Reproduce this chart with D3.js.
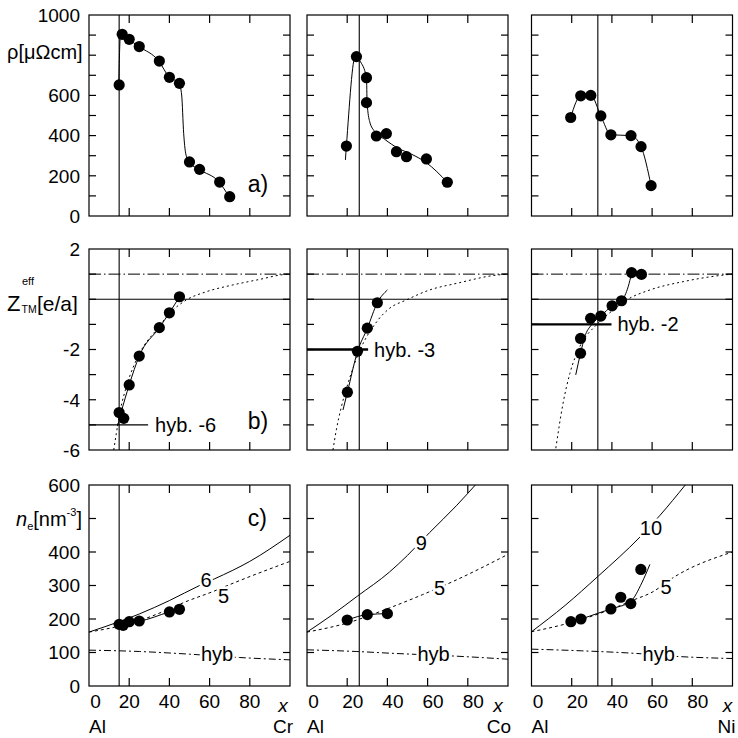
<!DOCTYPE html>
<html><head><meta charset="utf-8">
<script src="https://cdn.jsdelivr.net/npm/d3@7"></script>
<style>
body{margin:0;background:#fff}
svg{display:block}
text{font-family:"Liberation Sans",Arial,Helvetica,sans-serif;fill:#000}
</style>
</head><body>
<svg id="c" width="738" height="738"></svg>
<script>
// ---------------- DATA ----------------
const categories = ["Cr", "Co", "Ni"];
const tmVertical = [15, 26, 33];

// row a) resistivity
const rhoX_Cr = [15, 16.5, 20, 25, 35, 40, 45, 50, 55, 65, 70];
const rhoY_Cr = [652, 904, 879, 843, 771, 690, 660, 269, 232, 169, 96];
const rhoFitX_Cr = [14.8, 15.6, 16.6, 19.8, 24.9, 34.7, 39.8, 44.8, 46.1, 47.1, 48.1, 49.8, 54.7, 64.7, 69.7];
const rhoFitY_Cr = [652, 892, 904, 879, 843, 771, 692, 660, 602, 411, 312, 269, 232, 169, 96];
const rhoX_Co = [19.6, 24.6, 29.6, 29.6, 34.5, 39.5, 44.5, 49.5, 59.4, 69.8];
const rhoY_Co = [348, 793, 688, 564, 398, 410, 320, 295, 284, 168];
const rhoFitX_Co = [19.1, 19.6, 24.1, 26.2, 29.6, 29.9, 31.2, 33.7, 38.7, 45.3, 51.9, 59.4, 69.8];
const rhoFitY_Co = [279, 348, 796, 773, 688, 564, 469, 420, 381, 337, 308, 265, 168];
const rhoX_Ni = [19.5, 24.5, 29.5, 34.5, 39.5, 49.5, 54.5, 59.5];
const rhoY_Ni = [490, 598, 600, 498, 404, 400, 345, 151];

// row b) effective valence
const zX_Cr = [15, 17.3, 20, 25, 35, 40, 45];
const zY_Cr = [-4.51, -4.74, -3.41, -2.26, -1.13, -0.54, 0.1];
const zFitX_Cr = [14.2, 16, 20, 25, 35, 40, 45];
const zFitY_Cr = [-5.05, -4.5, -3.41, -2.26, -1.13, -0.54, 0.1];
const zDotX_Cr = [12.3, 13.6, 15.6, 18.6, 25.2, 33.5, 41.8, 48.4, 58.4, 71.6, 84.9, 96.6, 100];
const zDotY_Cr = [-6, -5.34, -4.41, -3.48, -2.15, -1.22, -0.43, -0.03, 0.3, 0.57, 0.79, 0.98, 1.0];
const zX_Co = [20.1, 25.1, 30, 35];
const zY_Co = [-3.7, -2.07, -1.15, -0.14];
const zFitX_Co = [17.9, 20.1, 25.1, 30, 35, 40];
const zFitY_Co = [-4.41, -3.7, -2.09, -1.16, -0.14, 0.37];
const zDotX_Co = [12.9, 14.6, 17.1, 20.4, 23.7, 35.3, 41.1, 49.4, 61, 74.3, 94.2, 100];
const zDotY_Co = [-6, -5.2, -4.28, -3.35, -2.55, -0.83, -0.36, -0.03, 0.37, 0.63, 0.96, 1.0];
const zX_Ni = [24.4, 24.4, 29.4, 34.5, 40.1, 44.8, 49.8, 54.7];
const zY_Ni = [-2.15, -1.56, -0.76, -0.67, -0.26, -0.06, 1.06, 0.99];
const zFitX_Ni = [22, 24.4, 26.5, 29.8, 34.5, 40.1, 44.8, 48.1, 49.8];
const zFitY_Ni = [-3.01, -2.15, -1.49, -1.02, -0.67, -0.26, -0.06, 0.5, 1.03];
const zDotX_Ni = [12.1, 15.7, 19.1, 24, 32.3, 40.6, 47.3, 58.9, 75.4, 98.7, 100];
const zDotY_Ni = [-5.93, -4.14, -2.95, -1.89, -1.02, -0.43, -0.03, 0.37, 0.7, 0.99, 1.0];
const hybLevel = [-5, -2, -1];
const hybEnd = [29.4, 30.4, 39.8];
const hybText = ["hyb. -6", "hyb. -3", "hyb. -2"];

// row c) electron density
const nX_Cr = [15, 17, 20, 25, 40, 45];
const nY_Cr = [184, 181, 192, 194, 221, 229];
const nX_Co = [20, 30, 40];
const nY_Co = [197, 213, 216];
const nX_Ni = [19.6, 24.6, 39.5, 44.4, 49.4, 54.4];
const nY_Ni = [192, 200, 230, 265, 246, 348];
const nFitX_Ni = [19.6, 24.6, 33, 39.5, 49.4, 54.9, 58.9];
const nFitY_Ni = [192, 200, 217, 230, 253, 308, 363];

const hiX_Cr = [0, 15, 25, 40, 55, 62.5, 80, 100];
const hiY_Cr = [161, 192, 215, 255, 300, 320, 372, 450];
const hiX_Co = [0, 12, 25, 41, 50, 61, 74.3, 84.2];
const hiY_Co = [161, 210, 268, 340, 390, 458, 538, 603];
const hiX_Ni = [0, 16.6, 33.2, 54, 64, 76.5];
const hiY_Ni = [162, 240, 328, 445, 510, 600];
const hiLabel = ["6", "9", "10"];
const hiLabelX = [58.2, 56.9, 59.4];
const hiLabelY = [318, 426, 472];

const fiveX_Cr = [0, 25, 40, 47.5, 61.7, 73, 100];
const fiveY_Cr = [161, 195, 230, 250, 282, 310, 372];
const fiveX_Co = [0, 20, 41, 57.6, 73, 100];
const fiveY_Co = [161, 188, 233, 273, 313, 393];
const fiveX_Ni = [0, 20, 40, 50, 60, 71.7, 100];
const fiveY_Ni = [162, 190, 230, 255, 280, 328, 400];
const fiveLabelX = [67, 66, 67];
const fiveLabelY = [270, 294, 295];

const hybX_Cr = [0, 25, 50, 75, 100];
const hybY_Cr = [107, 103, 95, 85, 78];
const hybX_Co = [0, 24.5, 41, 77.6, 100];
const hybY_Co = [108, 103, 98, 88, 80];
const hybX_Ni = [0, 25, 50, 73, 100];
const hybY_Ni = [110, 105, 98, 88, 82];
const hybLabelX = [63.7, 63, 63.3];
const hybLabelY = [96, 96, 96];

// axes
const xTicks = [20, 40, 60, 80];
const xTickLabels = [0, 20, 40, 60, 80];
const rhoTicks = d3.range(0, 1001, 100);
const rhoLabels = [1000, 600, 400, 200, 0];
const zTicks = d3.range(-6, 2.01, 1);
const zLabels = [2, -2, -4, -6];
const nTicks = d3.range(0, 601, 100);
const nLabels = [600, 400, 300, 200, 100, 0];
const panelLetters = ["a)", "b)", "c)"];

// ---------------- LAYOUT ----------------
const W = 201, H = 201;
const colX = [89, 307, 531.5];
const rowY = [15, 249, 485];
const svg = d3.select("#c");
const x = d3.scaleLinear().domain([0, 100]).range([0, W]);
const yRows = [
  d3.scaleLinear().domain([0, 1000]).range([H, 0]),
  d3.scaleLinear().domain([-6, 2]).range([H, 0]),
  d3.scaleLinear().domain([0, 600]).range([H, 0])
];
const yTicksRows = [rhoTicks, zTicks, nTicks];
const yLabelsRows = [rhoLabels, zLabels, nLabels];

const pts = (xs, ys) => d3.zip(xs, ys);
function lineGen(y, curve) {
  return d3.line().x(d => x(d[0])).y(d => y(d[1])).curve(curve || d3.curveMonotoneX);
}

const rowData = [
  { pts: [pts(rhoX_Cr, rhoY_Cr), pts(rhoX_Co, rhoY_Co), pts(rhoX_Ni, rhoY_Ni)],
    fit: [pts(rhoFitX_Cr, rhoFitY_Cr), pts(rhoFitX_Co, rhoFitY_Co), pts(rhoX_Ni, rhoY_Ni)] },
  { pts: [pts(zX_Cr, zY_Cr), pts(zX_Co, zY_Co), pts(zX_Ni, zY_Ni)],
    fit: [pts(zFitX_Cr, zFitY_Cr), pts(zFitX_Co, zFitY_Co), pts(zFitX_Ni, zFitY_Ni)] },
  { pts: [pts(nX_Cr, nY_Cr), pts(nX_Co, nY_Co), pts(nX_Ni, nY_Ni)],
    fit: [pts(nX_Cr, nY_Cr), pts(nX_Co, nY_Co), pts(nFitX_Ni, nFitY_Ni)] }
];
const zDots = [pts(zDotX_Cr, zDotY_Cr), pts(zDotX_Co, zDotY_Co), pts(zDotX_Ni, zDotY_Ni)];
const hiCurves = [pts(hiX_Cr, hiY_Cr), pts(hiX_Co, hiY_Co), pts(hiX_Ni, hiY_Ni)];
const fiveCurves = [pts(fiveX_Cr, fiveY_Cr), pts(fiveX_Co, fiveY_Co), pts(fiveX_Ni, fiveY_Ni)];
const hybCurves = [pts(hybX_Cr, hybY_Cr), pts(hybX_Co, hybY_Co), pts(hybX_Ni, hybY_Ni)];

const defs = svg.append("defs");
defs.append("clipPath").attr("id", "clip").append("rect").attr("width", W).attr("height", H);

const FONT = 19;

for (let r = 0; r < 3; r++) {
  for (let c = 0; c < 3; c++) {
    const y = yRows[r];
    const g = svg.append("g").attr("transform", `translate(${colX[c]},${rowY[r]})`);
    const inner = g.append("g").attr("clip-path", "url(#clip)");

    // vertical reference line
    inner.append("line").attr("x1", x(tmVertical[c])).attr("x2", x(tmVertical[c]))
      .attr("y1", 0).attr("y2", H).attr("stroke", "#000").attr("stroke-width", 1.1);

    if (r === 1) {
      inner.append("line").attr("x1", 0).attr("x2", W).attr("y1", y(0)).attr("y2", y(0))
        .attr("stroke", "#000").attr("stroke-width", 1.1);
      inner.append("line").attr("x1", 0).attr("x2", W).attr("y1", y(1)).attr("y2", y(1))
        .attr("stroke", "#000").attr("stroke-width", 1).attr("stroke-dasharray", "12,3,1.5,3");
      inner.append("path").attr("d", lineGen(y)(zDots[c])).attr("fill", "none")
        .attr("stroke", "#000").attr("stroke-width", 1).attr("stroke-dasharray", "2,3");
      inner.append("line").attr("x1", 0).attr("x2", x(hybEnd[c]))
        .attr("y1", y(hybLevel[c])).attr("y2", y(hybLevel[c]))
        .attr("stroke", "#000").attr("stroke-width", c === 0 ? 1.2 : 2.3);
      g.append("text").attr("x", x(hybEnd[c]) + (c === 0 ? 7 : 6)).attr("y", y(hybLevel[c]) + 7)
        .attr("font-size", 20).text(hybText[c]);
    }
    if (r === 2) {
      inner.append("path").attr("d", lineGen(y)(hiCurves[c])).attr("fill", "none")
        .attr("stroke", "#000").attr("stroke-width", 1);
      inner.append("path").attr("d", lineGen(y)(fiveCurves[c])).attr("fill", "none")
        .attr("stroke", "#000").attr("stroke-width", 1).attr("stroke-dasharray", "3,3");
      inner.append("path").attr("d", lineGen(y)(hybCurves[c])).attr("fill", "none")
        .attr("stroke", "#000").attr("stroke-width", 1).attr("stroke-dasharray", "7,3,2,3");
      const lab = [
        [hiLabel[c], hiLabelX[c], hiLabelY[c]],
        ["5", fiveLabelX[c], fiveLabelY[c]],
        ["hyb", hybLabelX[c], hybLabelY[c]]
      ];
      lab.forEach(([t, lx, ly]) => {
        g.append("text").attr("x", x(lx)).attr("y", y(ly)).attr("dy", "0.36em")
          .attr("text-anchor", "middle").attr("font-size", 20)
          .attr("stroke", "#fff").attr("stroke-width", 5).attr("paint-order", "stroke")
          .attr("stroke-linejoin", "round").text(t);
      });
    }

    // fitted curve through data
    inner.append("path").attr("d", lineGen(y)(rowData[r].fit[c])).attr("fill", "none")
      .attr("stroke", "#000").attr("stroke-width", 1);
    // points
    g.selectAll(null).data(rowData[r].pts[c]).enter().append("circle")
      .attr("cx", d => x(d[0])).attr("cy", d => y(d[1])).attr("r", 5.6).attr("fill", "#000");

    // frame
    g.append("rect").attr("x", 0).attr("y", 0).attr("width", W).attr("height", H)
      .attr("fill", "none").attr("stroke", "#000").attr("stroke-width", 1.2);
    // ticks
    const TL = 7;
    yTicksRows[r].forEach(v => {
      const yy = y(v);
      if (Math.abs(yy) < 0.5 || Math.abs(yy - H) < 0.5) return;
      g.append("line").attr("x1", 0).attr("x2", TL).attr("y1", yy).attr("y2", yy).attr("stroke", "#000").attr("stroke-width", 1.2);
      g.append("line").attr("x1", W - TL).attr("x2", W).attr("y1", yy).attr("y2", yy).attr("stroke", "#000").attr("stroke-width", 1.2);
    });
    xTicks.forEach(v => {
      g.append("line").attr("x1", x(v)).attr("x2", x(v)).attr("y1", 0).attr("y2", 8).attr("stroke", "#000").attr("stroke-width", 1.2);
      g.append("line").attr("x1", x(v)).attr("x2", x(v)).attr("y1", H - 8).attr("y2", H).attr("stroke", "#000").attr("stroke-width", 1.2);
    });

    // y tick labels (first column)
    if (c === 0) {
      yLabelsRows[r].forEach(v => {
        g.append("text").attr("x", -9).attr("y", y(v)).attr("dy", "0.36em")
          .attr("text-anchor", "end").attr("font-size", FONT).text(String(v));
      });
      g.append("text").attr("x", x(79)).attr("y", r === 2 ? 41 : (r === 0 ? 177 : 180))
        .attr("font-size", 23).text(panelLetters[r]);
    }
    // x tick labels (bottom row)
    if (r === 2) {
      const shift = c === 0 ? 0 : 5.5;
      xTickLabels.forEach(v => {
        g.append("text").attr("x", v === 0 ? x(v) + 6.5 : x(v) + shift).attr("y", H + 22)
          .attr("text-anchor", "middle").attr("font-size", FONT).text(v);
      });
      g.append("text").attr("x", W - [7, 10, 5][c]).attr("y", H + 26).attr("text-anchor", "middle")
        .attr("font-size", FONT).attr("font-style", "italic").text("x");
      g.append("text").attr("x", 0).attr("y", H + 47).attr("font-size", FONT).text("Al");
      g.append("text").attr("x", W + 3).attr("y", H + 47).attr("text-anchor", "end")
        .attr("font-size", FONT).text(categories[c]);
    }
  }
}

// y axis titles
svg.append("text").attr("x", 7).attr("y", 59).attr("font-size", 20).text("ρ[μΩcm]");
svg.append("text").attr("x", 7).attr("y", 311).attr("font-size", 22).text("Z");
svg.append("text").attr("x", 22).attr("y", 285).attr("font-size", 11).text("eff");
svg.append("text").attr("x", 21.5).attr("y", 313).attr("font-size", 10.5).text("TM");
svg.append("text").attr("x", 37).attr("y", 311).attr("font-size", 21).text("[e/a]");
const nt = svg.append("text").attr("x", 16).attr("y", 526).attr("font-size", 20);
nt.append("tspan").attr("font-style", "italic").text("n");
nt.append("tspan").attr("font-size", 11).attr("dy", 4).text("e");
nt.append("tspan").attr("dy", -4).text("[nm");
nt.append("tspan").attr("font-size", 11).attr("dy", -10).text("-3");
nt.append("tspan").attr("dy", 10).text("]");
</script>
</body></html>
